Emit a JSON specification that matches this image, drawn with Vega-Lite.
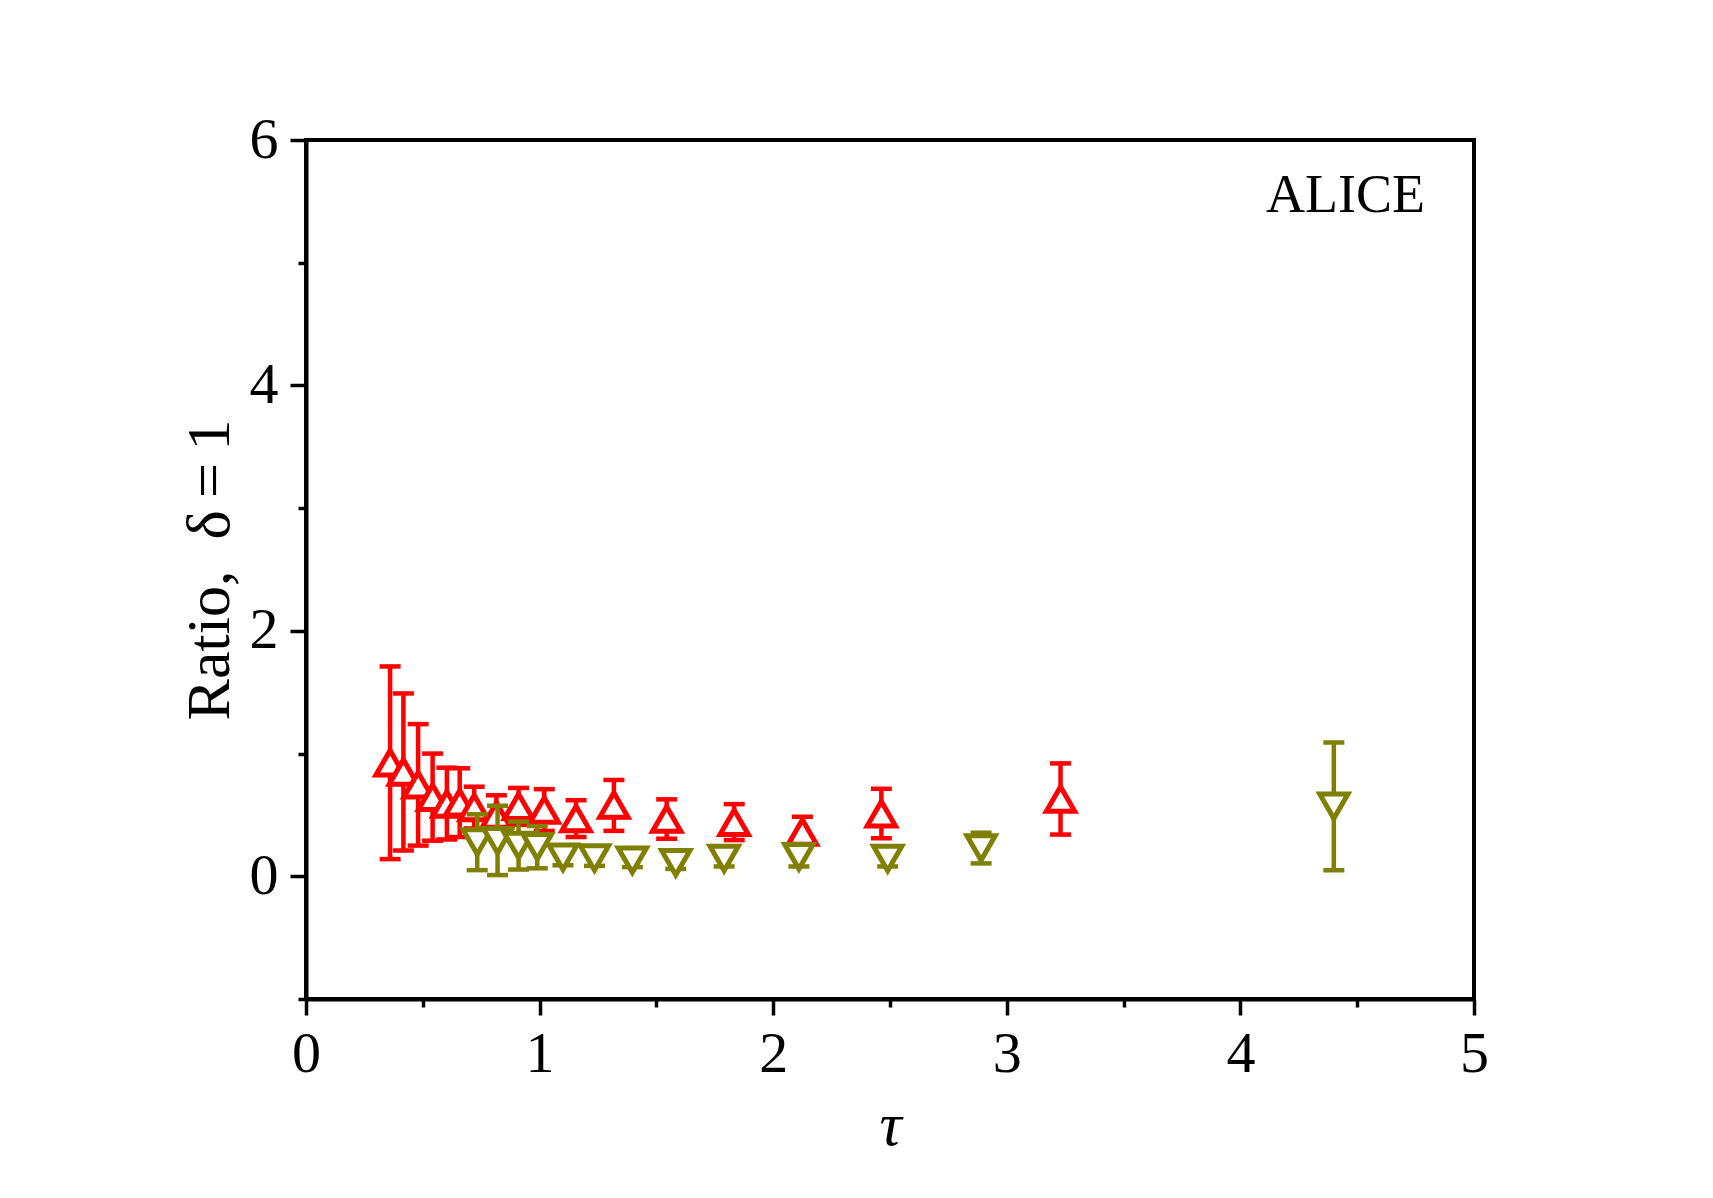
{
  "$schema": "https://vega.github.io/schema/vega-lite/v6.json",
  "autosize": "none",
  "width": 1168,
  "height": 859,
  "padding": {"left": 306, "top": 140, "right": 239, "bottom": 199},
  "background": "white",
  "config": {
    "view": {"stroke": "black", "strokeWidth": 4},
    "axis": {
      "grid": false,
      "domainColor": "black",
      "domainWidth": 4,
      "tickColor": "black",
      "tickWidth": 3.5,
      "tickSize": 16,
      "labelFlush": false,
      "labelFont": "Liberation Serif",
      "labelFontSize": 58,
      "labelColor": "black",
      "titleFont": "Liberation Serif",
      "titleFontSize": 62,
      "titleFontWeight": "normal",
      "titleColor": "black"
    }
  },
  "datasets": {
    "red": [
      {"tau": 0.36, "ratio": 0.925, "lo": 0.14, "hi": 1.71},
      {"tau": 0.417, "ratio": 0.85, "lo": 0.21, "hi": 1.49},
      {"tau": 0.48, "ratio": 0.745, "lo": 0.25, "hi": 1.24},
      {"tau": 0.542, "ratio": 0.645, "lo": 0.29, "hi": 1.0},
      {"tau": 0.603, "ratio": 0.59, "lo": 0.30, "hi": 0.885},
      {"tau": 0.658, "ratio": 0.6, "lo": 0.32, "hi": 0.88},
      {"tau": 0.72, "ratio": 0.56, "lo": 0.39, "hi": 0.73},
      {"tau": 0.815, "ratio": 0.5, "lo": 0.34, "hi": 0.66},
      {"tau": 0.91, "ratio": 0.57, "lo": 0.42, "hi": 0.72},
      {"tau": 1.02, "ratio": 0.54, "lo": 0.37, "hi": 0.71},
      {"tau": 1.156, "ratio": 0.47, "lo": 0.32, "hi": 0.62},
      {"tau": 1.318, "ratio": 0.58, "lo": 0.37, "hi": 0.785},
      {"tau": 1.544, "ratio": 0.466, "lo": 0.306, "hi": 0.627},
      {"tau": 1.833, "ratio": 0.44, "lo": 0.295, "hi": 0.588},
      {"tau": 2.125, "ratio": 0.36, "lo": 0.23, "hi": 0.485},
      {"tau": 2.463, "ratio": 0.51, "lo": 0.31, "hi": 0.713},
      {"tau": 3.23, "ratio": 0.63, "lo": 0.34, "hi": 0.92}
    ],
    "olive": [
      {"tau": 0.733, "ratio": 0.28, "lo": 0.05, "hi": 0.505},
      {"tau": 0.82, "ratio": 0.29, "lo": 0.01, "hi": 0.575},
      {"tau": 0.91, "ratio": 0.25, "lo": 0.055, "hi": 0.445},
      {"tau": 0.99, "ratio": 0.24, "lo": 0.065, "hi": 0.41},
      {"tau": 1.1, "ratio": 0.155, "lo": 0.09, "hi": 0.22},
      {"tau": 1.235, "ratio": 0.15, "lo": 0.085, "hi": 0.21},
      {"tau": 1.397, "ratio": 0.13, "lo": 0.075, "hi": 0.2},
      {"tau": 1.583, "ratio": 0.11, "lo": 0.06, "hi": 0.18},
      {"tau": 1.79, "ratio": 0.145, "lo": 0.08, "hi": 0.22},
      {"tau": 2.11, "ratio": 0.16, "lo": 0.08, "hi": 0.24},
      {"tau": 2.49, "ratio": 0.145, "lo": 0.08, "hi": 0.21},
      {"tau": 2.89, "ratio": 0.23, "lo": 0.105, "hi": 0.355},
      {"tau": 4.4, "ratio": 0.57, "lo": 0.05, "hi": 1.09}
    ],
    "label": [
      {"tau": 4.79, "ratio": 5.41, "name": "ALICE"}
    ]
  },
  "resolve": {"axis": {"x": "independent", "y": "independent"}},
  "layer": [
    {
      "mark": {"type": "rule", "color": "black", "strokeWidth": 4, "strokeDash": [18, 19.7], "opacity": 1},
      "encoding": {
        "y": {"datum": 1, "type": "quantitative", "scale": {"domain": [-1, 6], "nice": false, "zero": false}, "axis": null}
      }
    },
    {
      "data": {"name": "label"},
      "mark": {"type": "text", "font": "Liberation Serif", "fontSize": 54, "align": "right", "baseline": "alphabetic", "color": "black", "opacity": 1},
      "encoding": {
        "text": {"field": "name", "type": "nominal"},
        "x": {"field": "tau", "type": "quantitative", "scale": {"domain": [0, 5], "nice": false, "zero": false},
          "axis": {"orient": "bottom", "values": [0.5, 1.5, 2.5, 3.5, 4.5], "labels": false, "tickSize": 8, "domain": false, "title": null}},
        "y": {"field": "ratio", "type": "quantitative", "scale": {"domain": [-1, 6], "nice": false, "zero": false},
          "axis": {"orient": "left", "values": [-1, 1, 3, 5], "labels": false, "tickSize": 8, "domain": false, "title": null}}
      }
    },
    {
      "data": {"name": "red"},
      "mark": {"type": "rule", "color": "#FF0000", "strokeWidth": 4.5, "opacity": 1},
      "encoding": {
        "x": {"field": "tau", "type": "quantitative", "scale": {"domain": [0, 5], "nice": false, "zero": false}, "axis": null},
        "y": {"field": "lo", "type": "quantitative", "scale": {"domain": [-1, 6], "nice": false, "zero": false}, "axis": null},
        "y2": {"field": "hi"}
      }
    },
    {
      "data": {"name": "red"},
      "mark": {"type": "tick", "color": "#FF0000", "orient": "horizontal", "size": 21, "thickness": 4.5, "opacity": 1},
      "encoding": {
        "x": {"field": "tau", "type": "quantitative", "scale": {"domain": [0, 5], "nice": false, "zero": false}, "axis": null},
        "y": {"field": "lo", "type": "quantitative", "scale": {"domain": [-1, 6], "nice": false, "zero": false}, "axis": null}
      }
    },
    {
      "data": {"name": "red"},
      "mark": {"type": "tick", "color": "#FF0000", "orient": "horizontal", "size": 21, "thickness": 4.5, "opacity": 1},
      "encoding": {
        "x": {"field": "tau", "type": "quantitative", "scale": {"domain": [0, 5], "nice": false, "zero": false}, "axis": null},
        "y": {"field": "hi", "type": "quantitative", "scale": {"domain": [-1, 6], "nice": false, "zero": false}, "axis": null}
      }
    },
    {
      "data": {"name": "red"},
      "mark": {"type": "point", "shape": "triangle-up", "size": 800, "filled": false, "fill": "white", "fillOpacity": 1, "stroke": "#FF0000", "strokeWidth": 5, "opacity": 1},
      "encoding": {
        "x": {"field": "tau", "type": "quantitative", "scale": {"domain": [0, 5], "nice": false, "zero": false},
          "axis": {"orient": "bottom", "values": [0, 1, 2, 3, 4, 5], "format": "d", "labelPadding": 10, "title": "τ", "titleFontStyle": "italic", "titlePadding": 12}},
        "y": {"field": "ratio", "type": "quantitative", "scale": {"domain": [-1, 6], "nice": false, "zero": false},
          "axis": {"orient": "left", "values": [0, 2, 4, 6], "format": "d", "labelPadding": 12, "title": "Ratio,\u2002δ\u2009=\u20091", "titlePadding": 8}}
      }
    },
    {
      "data": {"name": "olive"},
      "mark": {"type": "rule", "color": "#808000", "strokeWidth": 4.5, "opacity": 1},
      "encoding": {
        "x": {"field": "tau", "type": "quantitative", "scale": {"domain": [0, 5], "nice": false, "zero": false}, "axis": null},
        "y": {"field": "lo", "type": "quantitative", "scale": {"domain": [-1, 6], "nice": false, "zero": false}, "axis": null},
        "y2": {"field": "hi"}
      }
    },
    {
      "data": {"name": "olive"},
      "mark": {"type": "tick", "color": "#808000", "orient": "horizontal", "size": 21, "thickness": 4.5, "opacity": 1},
      "encoding": {
        "x": {"field": "tau", "type": "quantitative", "scale": {"domain": [0, 5], "nice": false, "zero": false}, "axis": null},
        "y": {"field": "lo", "type": "quantitative", "scale": {"domain": [-1, 6], "nice": false, "zero": false}, "axis": null}
      }
    },
    {
      "data": {"name": "olive"},
      "mark": {"type": "tick", "color": "#808000", "orient": "horizontal", "size": 21, "thickness": 4.5, "opacity": 1},
      "encoding": {
        "x": {"field": "tau", "type": "quantitative", "scale": {"domain": [0, 5], "nice": false, "zero": false}, "axis": null},
        "y": {"field": "hi", "type": "quantitative", "scale": {"domain": [-1, 6], "nice": false, "zero": false}, "axis": null}
      }
    },
    {
      "data": {"name": "olive"},
      "mark": {"type": "point", "shape": "triangle-down", "size": 800, "filled": false, "fill": "white", "fillOpacity": 1, "stroke": "#808000", "strokeWidth": 5, "opacity": 1},
      "encoding": {
        "x": {"field": "tau", "type": "quantitative", "scale": {"domain": [0, 5], "nice": false, "zero": false}, "axis": null},
        "y": {"field": "ratio", "type": "quantitative", "scale": {"domain": [-1, 6], "nice": false, "zero": false}, "axis": null}
      }
    }
  ]
}
